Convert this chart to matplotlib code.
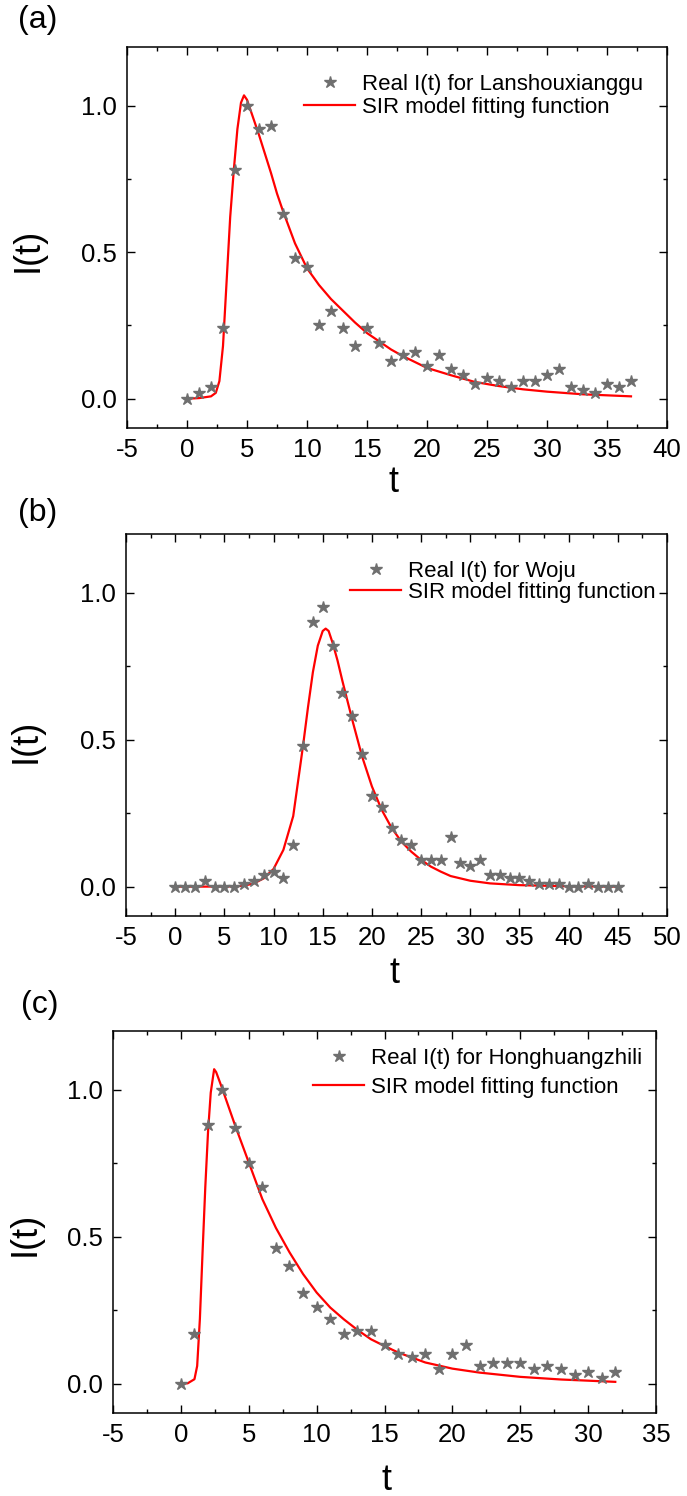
import matplotlib
matplotlib.use("Agg")
import matplotlib.pyplot as plt
from matplotlib.ticker import MultipleLocator

plt.rcParams['font.family'] = ['Liberation Sans', 'DejaVu Sans']
plt.rcParams['axes.unicode_minus'] = False

# (a) Lanshouxianggu - daily values
days_a = list(range(0, 38))
real_a = [0.0, 0.02, 0.04, 0.24, 0.78, 1.0, 0.92, 0.93, 0.63, 0.48,
          0.45, 0.25, 0.30, 0.24, 0.18, 0.24, 0.19, 0.13, 0.15, 0.16,
          0.11, 0.15, 0.10, 0.08, 0.05, 0.07, 0.06, 0.04, 0.06, 0.06,
          0.08, 0.10, 0.04, 0.03, 0.02, 0.05, 0.04, 0.06]
fit_t_a = [0, 1, 2, 2.4, 2.7, 3.0, 3.3, 3.6, 3.9, 4.2,
           4.5, 4.75, 5.0, 5.5, 6, 6.5, 7, 7.5, 8, 9,
           10, 11, 12, 13, 14, 15, 16, 17, 18, 19,
           20, 22, 24, 26, 28, 30, 33, 37]
fit_i_a = [0.0, 0.002, 0.008, 0.02, 0.06, 0.18, 0.40, 0.62, 0.78, 0.92,
           1.01, 1.035, 1.02, 0.96, 0.90, 0.835, 0.77, 0.70, 0.64, 0.53,
           0.445, 0.388, 0.34, 0.30, 0.26, 0.224, 0.196, 0.168, 0.145, 0.125,
           0.105, 0.08, 0.057, 0.043, 0.032, 0.024, 0.015, 0.008]

# (b) Woju
days_b = list(range(0, 46))
real_b = [0, 0, 0, 0.02, 0, 0, 0, 0.01, 0.02, 0.04,
          0.05, 0.03, 0.14, 0.48, 0.90, 0.95, 0.82, 0.66, 0.58, 0.45,
          0.31, 0.27, 0.20, 0.16, 0.14, 0.09, 0.09, 0.09, 0.17, 0.08,
          0.07, 0.09, 0.04, 0.04, 0.03, 0.03, 0.02, 0.01, 0.01, 0.01,
          0, 0, 0.01, 0, 0, 0]
fit_t_b = [0, 3, 5, 6, 7, 8, 9, 10, 11, 12,
           12.5, 13, 13.5, 14, 14.5, 15, 15.3, 15.6, 16, 16.5,
           17, 18, 19, 20, 21, 22, 23, 24, 25, 26,
           27, 28, 30, 32, 35, 40, 45]
fit_i_b = [0, 0, 0.0005, 0.001, 0.003, 0.011, 0.028, 0.06, 0.125, 0.24,
           0.36, 0.48, 0.61, 0.73, 0.82, 0.87, 0.878, 0.87, 0.83, 0.77,
           0.70, 0.568, 0.443, 0.341, 0.261, 0.2, 0.153, 0.119, 0.091, 0.068,
           0.051, 0.036, 0.02, 0.011, 0.005, 0.001, 0.0]

# (c) Honghuangzhili
days_c = list(range(0, 33))
real_c = [0, 0.17, 0.88, 1.0, 0.87, 0.75, 0.67, 0.46, 0.40, 0.31,
          0.26, 0.22, 0.17, 0.18, 0.18, 0.13, 0.10, 0.09, 0.10, 0.05,
          0.10, 0.13, 0.06, 0.07, 0.07, 0.07, 0.05, 0.06, 0.05, 0.03,
          0.04, 0.02, 0.04]
fit_t_c = [0, 0.5, 1.0, 1.2, 1.4, 1.6, 1.8, 2.0, 2.2, 2.45,
           2.6, 3, 3.5, 4, 5, 6, 7, 8, 9, 10,
           11, 12, 13, 14, 15, 16, 18, 20, 22, 25,
           28, 32]
fit_i_c = [0, 0.001, 0.015, 0.06, 0.22, 0.45, 0.67, 0.856, 0.99, 1.07,
           1.06, 1.01, 0.944, 0.878, 0.753, 0.628, 0.53, 0.447, 0.373, 0.31,
           0.259, 0.219, 0.183, 0.151, 0.128, 0.106, 0.072, 0.051, 0.0375, 0.023,
           0.014, 0.006]

W, H = 687, 1496
fig = plt.figure(figsize=(W / 100, H / 100), dpi=100)

panels = [
    # box in pixels (left, top, right, bottom) plus legend / label placement
    dict(box=(127, 47, 667, 428), xmax=40, days=days_a, real=real_a, ft=fit_t_a, fi=fit_i_a,
         name="Lanshouxianggu", tag="(a)", tag_xy=(38, 20), leg=(0.328, 0.93), lsp=0.1,
         ylab=(-0.15, 0.467), xlab=(0.493, -0.097)),
    dict(box=(126, 534, 667, 916), xmax=50, days=days_b, real=real_b, ft=fit_t_b, fi=fit_i_b,
         name="Woju", tag="(b)", tag_xy=(38, 513), leg=(0.414, 0.93), lsp=0.0,
         ylab=(-0.152, 0.458), xlab=(0.497, -0.105)),
    dict(box=(113, 1031, 656, 1413), xmax=35, days=days_c, real=real_c, ft=fit_t_c, fi=fit_i_c,
         name="Honghuangzhili", tag="(c)", tag_xy=(40, 1005), leg=(0.369, 0.955), lsp=0.35,
         ylab=(-0.13, 0.47), xlab=(0.503, -0.13)),
]

for p in panels:
    l, t, r, b = p["box"]
    ax = fig.add_axes([l / W, 1 - b / H, (r - l) / W, (b - t) / H])

    line, = ax.plot(p["ft"], p["fi"], color="#ff0000", lw=1.6, zorder=2,
                    label="SIR model fitting function")
    stars, = ax.plot(p["days"], p["real"], ls="none", marker="*", ms=9,
                     color="#6f6f6f", mec="#6f6f6f", zorder=3,
                     label=f"Real I(t) for {p['name']}")

    ax.set_xlim(-5, p["xmax"])
    ax.set_ylim(-0.1, 1.2)
    ax.xaxis.set_major_locator(MultipleLocator(5))
    ax.xaxis.set_minor_locator(MultipleLocator(2.5))
    ax.yaxis.set_major_locator(MultipleLocator(0.5))
    ax.yaxis.set_minor_locator(MultipleLocator(0.25))
    ax.yaxis.set_major_formatter(plt.FormatStrFormatter("%.1f"))

    ax.tick_params(which="both", direction="in", top=True, right=True,
                   width=1.0, labelsize=18.5, pad=7)
    ax.tick_params(which="major", length=6)
    ax.tick_params(which="minor", length=3)
    for sp in ax.spines.values():
        sp.set_linewidth(1.1)

    ax.set_ylabel("I(t)", fontsize=26)
    ax.yaxis.set_label_coords(*p["ylab"])
    ax.set_xlabel("t", fontsize=26)
    ax.xaxis.set_label_coords(*p["xlab"])

    ax.legend(handles=[stars, line], loc="upper left", bbox_to_anchor=p["leg"],
              frameon=False, fontsize=16, handlelength=2.3, handletextpad=0.3,
              borderpad=0, borderaxespad=0, labelspacing=p["lsp"], numpoints=1)

    fig.text(p["tag_xy"][0] / W, 1 - p["tag_xy"][1] / H, p["tag"],
             fontsize=23, ha="center", va="center")

fig.savefig("out.png", dpi=100)
